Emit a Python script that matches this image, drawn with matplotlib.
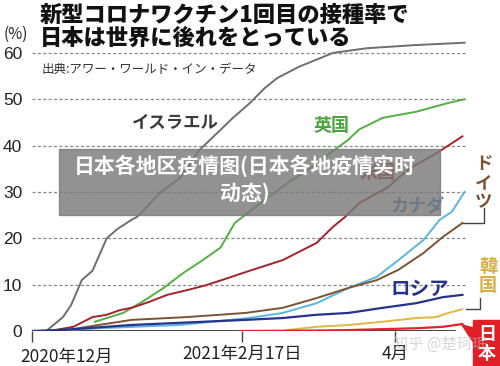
import matplotlib.pyplot as plt
from matplotlib.patches import Rectangle, Polygon

plt.rcParams['font.family'] = ['Noto Sans CJK JP', 'DejaVu Sans']

# days counted from 2020-12-20 (left tick), values in %
israel_days = [0, 4, 8.7, 11, 14, 17, 21, 24, 28, 29.5, 36, 41.6, 47, 53, 56.5, 61, 65.4, 69, 75, 84.6, 94, 108, 121.6]
israel = [0, 0, 3, 5.6, 11, 13, 20, 22, 24, 24.6, 29.8, 33, 39, 43.4, 46, 49, 52.4, 54.6, 57, 60, 61, 61.7, 62.2]

uk_days = [17.7, 25.6, 31, 37, 42.5, 48, 53, 57, 61, 64.6, 72, 79.5, 84, 88.8, 92, 98.6, 108, 117, 121.6]
uk = [2, 3.9, 6.3, 9.3, 12.5, 15.3, 18, 23.3, 25.7, 27.8, 32, 35.8, 38.5, 41.2, 43.5, 46, 47.3, 49.2, 50]

us_days = [5, 11.6, 17, 21, 24.7, 28, 33, 38, 43.5, 49, 55, 60, 70.5, 80, 84.5, 88, 92, 100, 106, 113.6, 121]
us = [0, 0.9, 3, 3.5, 4.5, 5, 6.3, 7.8, 8.8, 9.9, 11.4, 12.7, 15.3, 19, 22.4, 24.6, 27.6, 31, 35, 38.3, 42]

canada_days = [5, 19, 41.5, 61, 70.5, 80, 89, 97, 103, 110, 114.6, 118, 121.6]
canada = [0, 0.6, 1.3, 2.8, 3.9, 6, 9.3, 11.7, 15.3, 19.6, 24, 25.7, 30]

germany_days = [8, 28, 43.5, 60, 70.5, 80, 89, 97, 103, 110, 115.5, 121]
germany = [0, 2.4, 3, 3.9, 5, 7.1, 9.3, 11, 13.2, 16.8, 20.3, 23.3]

russia_days = [0, 10, 28, 60, 70.5, 80, 89, 98.6, 108, 115.5, 121]
russia = [0, 0.3, 1.3, 2.4, 2.8, 3.5, 3.9, 5, 6, 7.3, 7.8]

korea_days = [71.6, 80, 89, 98.6, 108, 113.7, 117, 121]
korea = [0.2, 0.9, 1.3, 2, 2.8, 3, 3.9, 4.7]

japan_days = [59, 80, 89, 108, 115.5, 121]
japan = [0, 0.1, 0.2, 0.6, 0.9, 1.5]

tick_days = [0, 59, 102]
tick_labels = ['2020年12月', '2021年2月17日', '4月']
grid_vals = [10, 20, 30, 40, 50, 60]

W, H = 500, 366
fig = plt.figure(figsize=(5, 3.66), dpi=100)
ax = fig.add_axes([32 / W, 1 - 331 / H, 434 / W, 292 / H])
ax.set_xlim(0, 122)
ax.set_ylim(0, 63)
for s in ax.spines.values():
    s.set_visible(False)

for g in grid_vals:
    ax.axhline(g, color='#888888', lw=0.9, ls=(0, (2.5, 1.8)), zorder=1)
ax.axhline(0, xmin=0, xmax=118.8 / 122, color='#222222', lw=1.2, zorder=1)

ax.plot(israel_days, israel, color='#6e6e6e', lw=1.4, zorder=3)
ax.plot(uk_days, uk, color='#52b043', lw=1.4, zorder=3)
ax.plot(us_days, us, color='#a3222c', lw=1.4, zorder=3)
ax.plot(canada_days, canada, color='#5ab5de', lw=1.4, zorder=3)
ax.plot(germany_days, germany, color='#7a5333', lw=1.4, zorder=3)
ax.plot(korea_days, korea, color='#e2b648', lw=1.4, zorder=3)
ax.plot(russia_days, russia, color='#25338c', lw=1.6, zorder=4)
ax.plot(japan_days, japan, color='#e3222a', lw=1.6, zorder=5)

ax.set_yticks([0] + grid_vals)
ax.set_yticklabels(['0'] + [str(g) for g in grid_vals], fontsize=12.5,
                   family=['Liberation Sans'], color='#222222')
ax.tick_params(axis='y', length=0, pad=7)
ax.set_xticks(tick_days)
ax.set_xticklabels(['', tick_labels[1], tick_labels[2]], fontsize=12.5, color='#222222')
ax.tick_params(axis='x', length=8, width=1, color='#444444', pad=2)
ax.text(-12 / 3.56, -3.6, tick_labels[0], fontsize=12.5, color='#222222',
        ha='left', va='top', clip_on=False)

# titles
fig.text(40 / W, 1 - 15 / H, '新型コロナワクチン1回目の接種率で', fontsize=16,
         fontweight='black', va='center', ha='left', color='#111111')
fig.text(40 / W, 1 - 38 / H, '日本は世界に後れをとっている', fontsize=16,
         fontweight='black', va='center', ha='left', color='#111111')
fig.text(4 / W, 1 - 34 / H, '(%)', fontsize=11, va='center', ha='left', color='#222222')
fig.text(42 / W, 1 - 70 / H, '出典:アワー・ワールド・イン・データ', fontsize=9,
         va='center', ha='left', color='#333333')

# series labels
fig.text(175 / W, 1 - 123 / H, 'イスラエル', fontsize=12.5, fontweight='bold',
         color='#3a3a3a', ha='center', va='center')
fig.text(332 / W, 1 - 125 / H, '英国', fontsize=13, fontweight='bold',
         color='#4aa43c', ha='center', va='center')
fig.text(378 / W, 1 - 172 / H, '米国', fontsize=13, fontweight='bold',
         color='#a3222c', ha='center', va='center')
fig.text(417 / W, 1 - 207 / H, 'カナダ', fontsize=13, fontweight='bold',
         color='#3d7fae', ha='center', va='center')
fig.text(420 / W, 1 - 289 / H, 'ロシア', fontsize=14, fontweight='bold',
         color='#25338c', ha='center', va='center')
fig.text(484 / W, 1 - 183 / H, 'ド\nイ\nツ', fontsize=12.5, fontweight='bold',
         color='#7a5333', ha='center', va='center', linespacing=1.05)
fig.text(488 / W, 1 - 276 / H, '韓\n国', fontsize=13, fontweight='bold',
         color='#dcae42', ha='center', va='center', linespacing=1.05)

# brackets to labels
ax.plot([germany_days[-1], 127, 127], [germany[-1], germany[-1], germany[-1] + 3.2],
        color='#444444', lw=1, clip_on=False)
ax.plot([korea_days[-1] + 1, 126, 126], [korea[-1], korea[-1], korea[-1] + 2.4],
        color='#444444', lw=1, clip_on=False)

# Japan box
fig.patches.append(Rectangle((473 / W, 0), 27 / W, 1 - 320 / H, transform=fig.transFigure,
                             color='#e01e25', zorder=5))
fig.patches.append(Polygon([(462 / W, 1 - 325 / H), (474 / W, 1 - 328 / H), (474 / W, 1 - 343 / H)],
                           closed=True, transform=fig.transFigure, color='#e01e25', zorder=5))
fig.text(487 / W, 1 - 344 / H, '日\n本', fontsize=13, fontweight='bold', color='white',
         ha='center', va='center', linespacing=1.0, zorder=6)

# watermark
fig.text(440 / W, 1 - 344 / H, '知乎 @楚珂珉', fontsize=11, color='#bbbbbb',
         alpha=0.6, ha='center', va='center', zorder=7)

# overlay banner
fig.patches.append(Rectangle((59 / W, 1 - 215 / H), 381 / W, 66 / H, transform=fig.transFigure,
                             color='#7a7a7a', alpha=0.82, zorder=8))
fig.text(245 / W, 1 - 179 / H, '日本各地区疫情图(日本各地疫情实时\n动态)', fontsize=15,
         fontweight='bold', color='white', ha='center', va='center', linespacing=1.3,
         family=['Noto Sans CJK SC', 'DejaVu Sans'], zorder=9)

fig.savefig('out.png', dpi=100)
